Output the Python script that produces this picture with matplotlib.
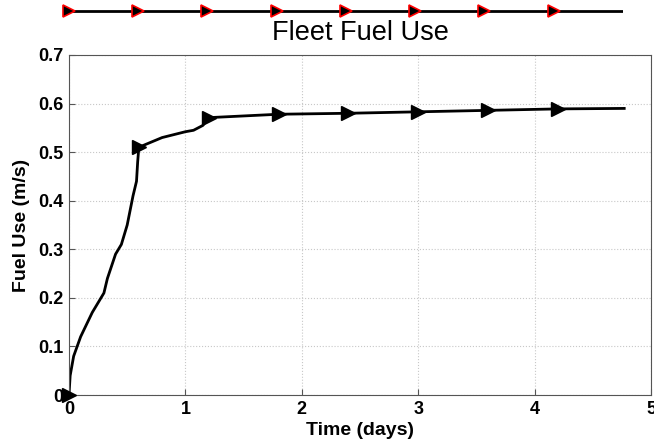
import numpy as np
import matplotlib.pyplot as plt

plt.rcParams['font.family'] = ['Liberation Sans', 'DejaVu Sans']

# fleet fuel use curve (days, m/s)
time_days = [0.0, 0.01, 0.04, 0.1, 0.2, 0.3, 0.33, 0.4, 0.45, 0.5, 0.55, 0.58, 0.59, 0.6,
             0.8, 1.0, 1.07, 1.15, 1.2, 1.8, 2.4, 3.0, 3.6, 4.2, 4.77]
fuel_use = [0.0, 0.04, 0.08, 0.12, 0.17, 0.21, 0.24, 0.29, 0.31, 0.35, 0.41, 0.44, 0.48, 0.51,
            0.53, 0.542, 0.545, 0.555, 0.571, 0.578, 0.58, 0.583, 0.586, 0.589, 0.59]
marker_days = [0.0, 0.6, 1.2, 1.8, 2.4, 3.0, 3.6, 4.2]

# strip above the title
strip_x = [0, 1, 2, 3, 4, 5, 6, 7, 8]
strip_marks = [0, 1, 2, 3, 4, 5, 6, 7]

fig = plt.figure(figsize=(6.54, 4.47), dpi=100)
ax = fig.add_axes([0.1055, 0.1163, 0.8899, 0.7607])

ax.plot(time_days, fuel_use, color='black', lw=2)
mk_y = np.interp(marker_days, time_days, fuel_use)
ax.plot(marker_days, mk_y, ls='none', marker='>', ms=10, color='black', clip_on=False, zorder=5)

ax.set_xlim(0, 5)
ax.set_ylim(0, 0.7)
ax.set_xticks([0, 1, 2, 3, 4, 5])
ax.set_yticks(np.arange(0, 0.71, 0.1))
ax.set_yticklabels(['0', '0.1', '0.2', '0.3', '0.4', '0.5', '0.6', '0.7'])
ax.grid(True, ls=':', color='#c8c8c8', lw=0.8)
ax.tick_params(direction='in', length=4, labelsize=13, pad=4, color='#555555')
for lab in ax.get_xticklabels() + ax.get_yticklabels():
    lab.set_fontweight('bold')
for sp in ax.spines.values():
    sp.set_color('#555555')
ax.set_xlabel('Time (days)', fontsize=14, fontweight='bold', labelpad=3)
ax.set_ylabel('Fuel Use (m/s)', fontsize=14, fontweight='bold', labelpad=6)
ax.set_title('Fleet Fuel Use', fontsize=19.5, pad=11)

top = fig.add_axes([0.1055, 0.955, 0.8471, 0.04])
top.plot(strip_x, [0] * len(strip_x), color='black', lw=2)
top.plot(strip_marks, [0] * len(strip_marks), ls='none', marker='>', ms=8,
         mfc='black', mec='red', mew=1.2, clip_on=False)
top.set_xlim(0, 8)
top.set_ylim(-1, 1)
top.axis('off')

fig.savefig('out.png', dpi=100)
